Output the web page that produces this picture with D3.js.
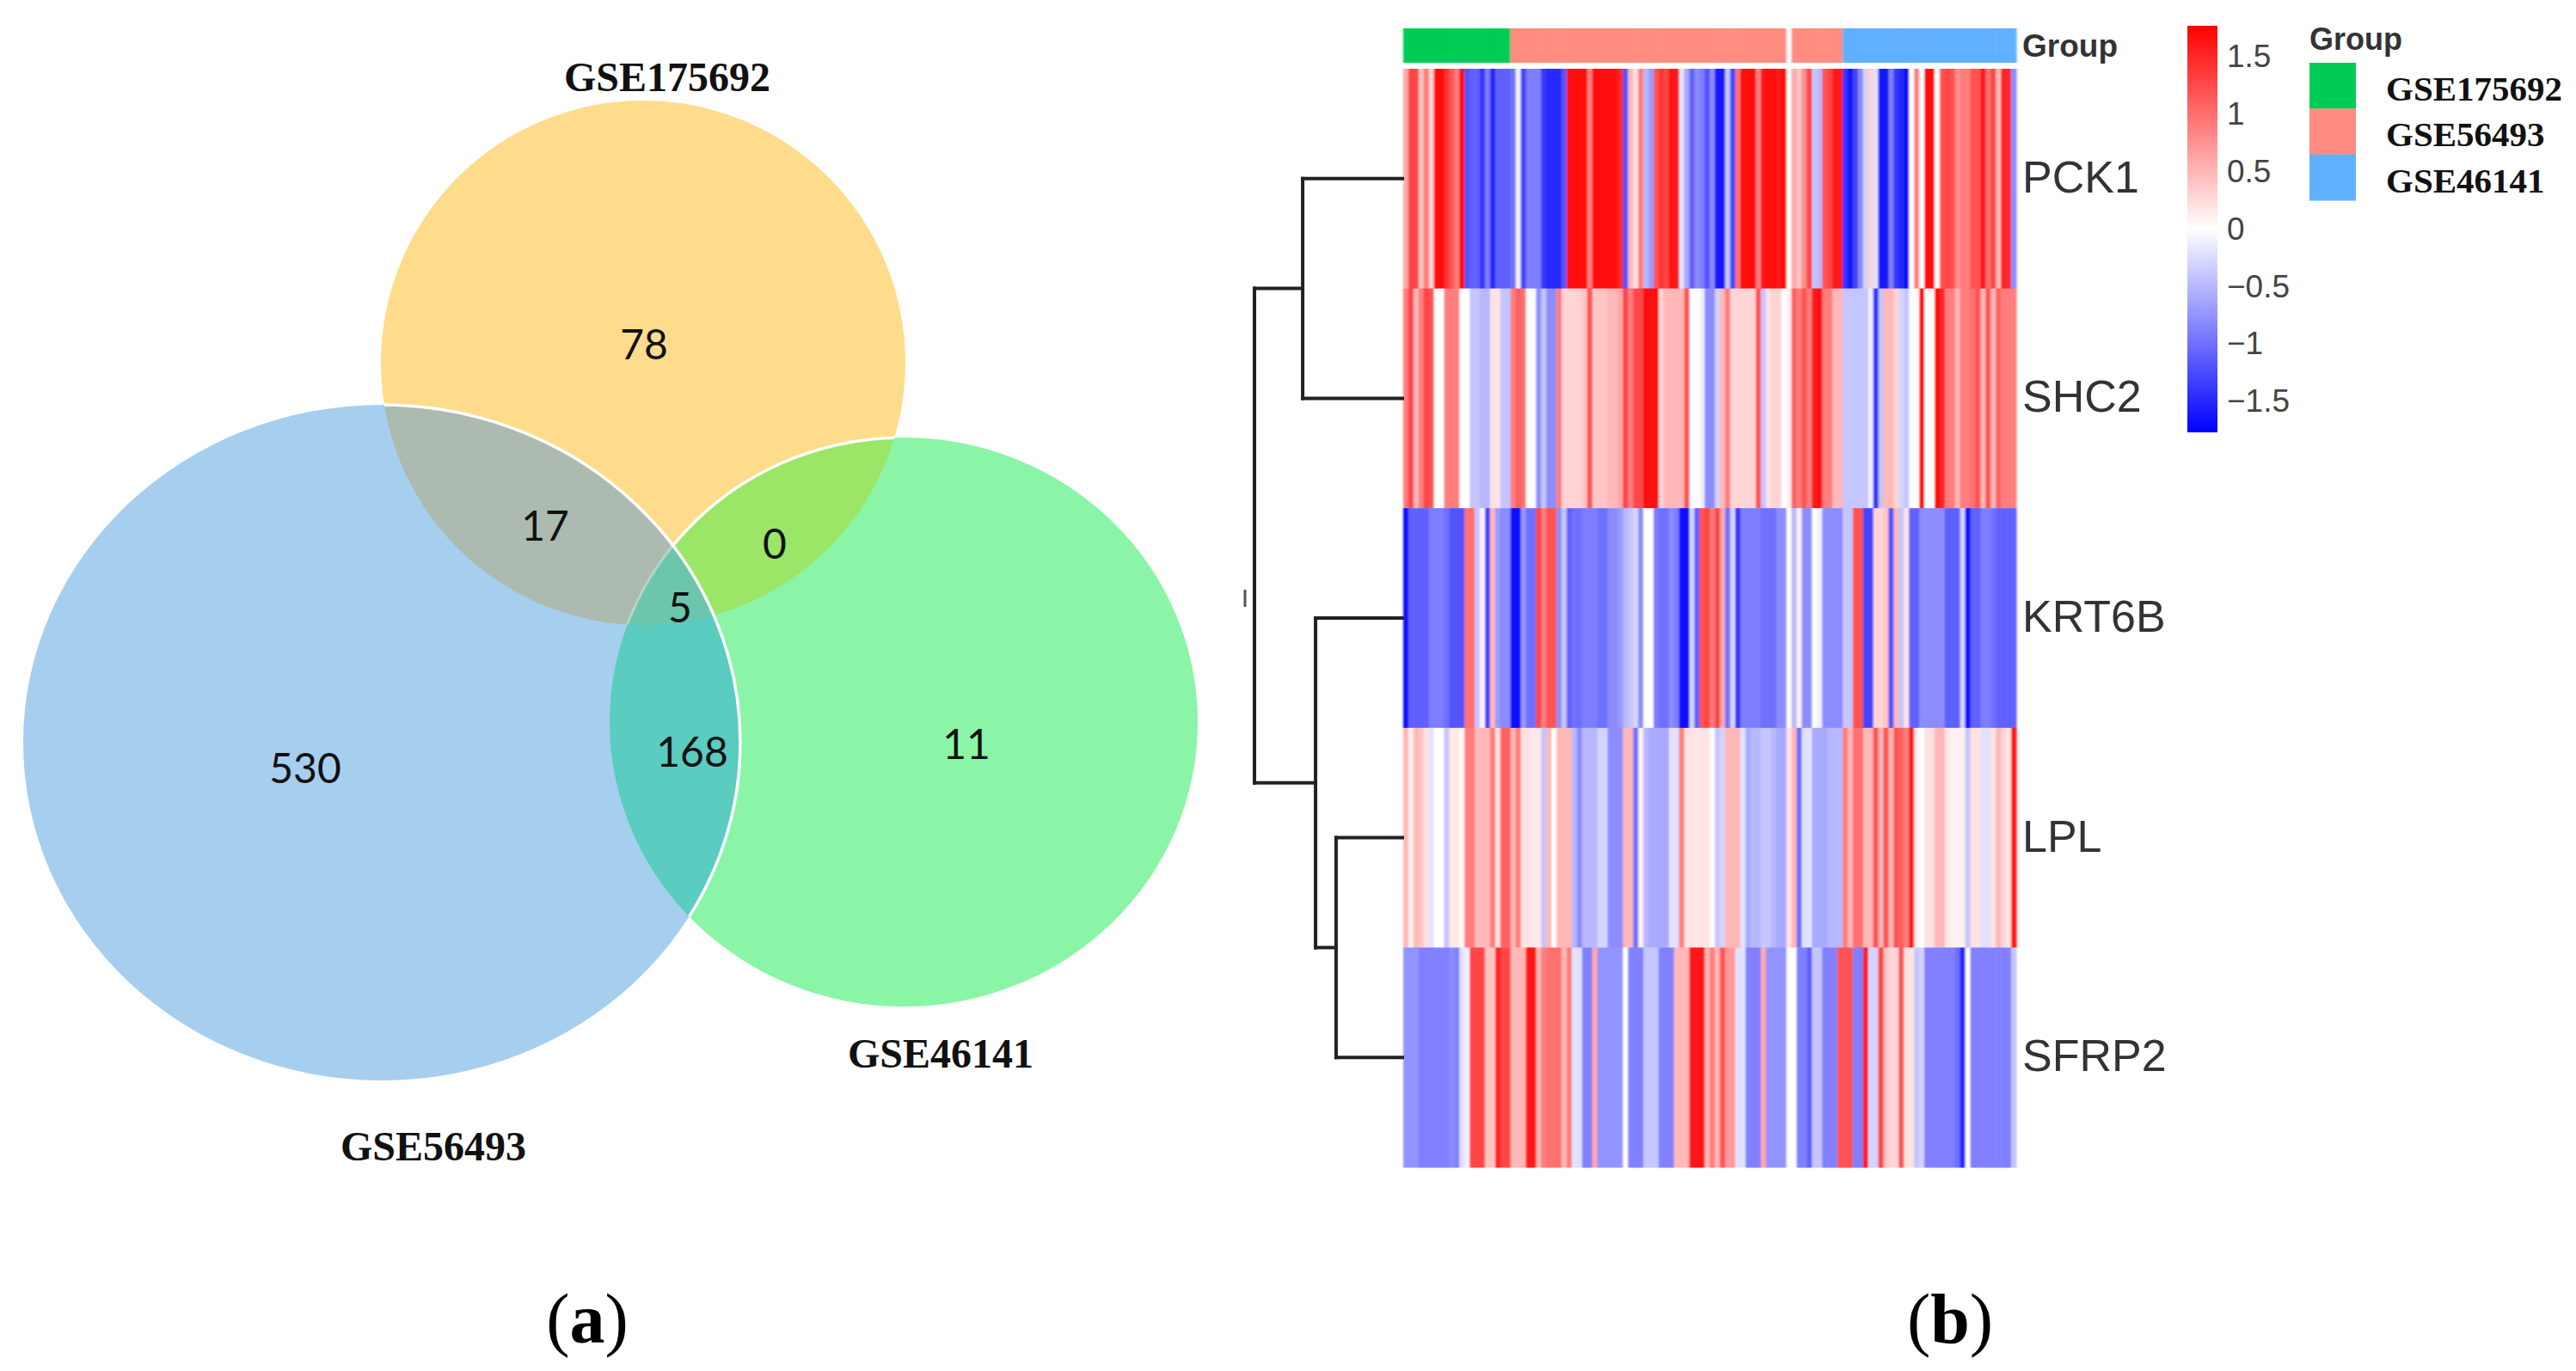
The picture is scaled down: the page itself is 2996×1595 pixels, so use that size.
<!DOCTYPE html>
<html>
<head>
<meta charset="utf-8">
<script src="https://cdn.jsdelivr.net/npm/d3@7"></script>
<style>
html,body{margin:0;padding:0;background:#fff;}
svg{display:block;}
</style>
</head>
<body>
<div id="chart"></div>
<script>
// ---------- data ----------
const vennSets = ["GSE175692", "GSE56493", "GSE46141"];
const vennCounts = [78, 17, 0, 5, 530, 168, 11];
const panelLabels = ["a", "b"];
const genes = ["PCK1", "SHC2", "KRT6B", "LPL", "SFRP2"];
const groupNames = ["GSE175692", "GSE56493", "GSE46141"];
const groupSizes = [21, 65, 34];
const colorTicks = [1.5, 1, 0.5, 0, -0.5, -1, -1.5];
const annotationTitle = "Group";

const pck1 = [0.6,1.3,1.3,0.4,0.9,0.3,1.7,1.7,1.4,1.2,0.9,1.7,-1.2,-1.1,-1.1,-1.4,-0.9,-1.5,-1.1,-1.1,
 -1.1,-1.0,-0.1,-1.3,-0.9,-0.9,-0.9,-1.4,-1.5,-1.5,-1.5,-1.2,1.7,1.7,1.7,1.7,0.9,1.7,1.7,1.7,
 1.7,1.7,1.5,-1.2,0.5,0.2,0.9,-0.5,-0.7,1.2,1.4,1.3,1.6,1.6,-0.2,-0.6,-1.1,-0.8,-0.9,-1.2,
 -0.8,-1.6,-1.6,-0.4,-1.3,1.0,1.7,1.7,1.7,0.9,1.6,1.7,1.7,1.6,1.7,0,0.6,0.4,0.8,1.3,
 -0.4,-0.5,1.2,1.3,1.6,1.6,-1.4,-1.6,-1.3,-0.8,-0.3,0.3,-0.2,-1.6,-1.6,-0.9,-1.4,-1.5,-1.7,0,
 0.9,0,1.7,1.7,0,1.2,1.3,1.2,0.8,0.9,0.9,1.2,1.2,1.6,1.0,1.3,0.5,1.5,1.5,-0.8];
const shc2 = [0.9,1.3,0.5,0.9,1.3,1.2,0,0,0.9,0.9,0.9,0,0,-0.4,-0.4,-0.5,-0.5,0.2,0.2,-0.4,
 -0.4,0.9,1.1,1.0,0,0,-0.8,-0.4,-0.8,-0.8,0.9,0.3,0.3,0.3,0.3,0.4,1.2,0.4,0.4,0.4,
 0.5,0.5,0.6,1.3,0.9,1.3,1.3,1.7,1.7,1.7,0.3,0.5,0.5,0.5,0.5,1.2,0,0,-0.1,-0.8,
 -0.8,-0.3,0.5,0.9,0.3,0.3,0.3,0.3,0.3,1.2,-0.4,0.2,0.3,0.3,0,0.1,1.1,0.9,1.2,0.9,
 1.6,1.7,0.9,0.9,0.5,0.5,-0.4,-0.4,-0.4,-0.4,-0.4,-0.1,-1.4,-0.4,0.5,0.5,0.3,-0.3,-0.4,0,
 0,1.7,0,0,1.7,1.5,0.9,0.9,0.5,0.9,0.9,1.0,1.2,0.5,1.2,0.5,1.1,0.9,0.9,0.9];
const krt6b = [-1.7,-1.1,-1.1,-1.1,-1.1,-0.9,-0.9,-0.9,-1.0,-1.2,-1.2,-1.2,1.0,1.0,-0.4,0.1,-1.3,0.5,-0.7,-0.8,
 -0.8,-1.7,-1.7,-0.7,-1.0,-1.0,1.3,0.9,1.2,1.2,-0.8,-0.4,-1.1,-1.0,-1.0,-0.9,-0.9,-0.9,-1.0,-1.0,
 -0.8,-0.8,-0.7,-0.5,-0.4,-0.3,-0.8,0,0,-0.9,-1.0,-1.0,-0.8,-0.9,-1.7,-1.7,-0.3,-1.1,1.2,1.3,
 0.9,1.3,0.6,-1.0,-0.3,-1.4,-0.9,-0.9,-0.9,-0.9,-1.0,-1.0,-1.0,-0.8,-0.8,0,-0.5,0.1,-0.8,-0.8,
 0,-0.1,-0.8,-0.8,-0.8,-0.8,-0.4,-0.4,1.2,1.2,-1.3,-1.3,0.3,0.3,0.4,-1.2,0.5,-0.4,0.2,-1.1,
 -1.1,-0.8,-0.8,-0.8,-0.8,-0.8,-1.1,-1.1,-1.1,-0.3,-1.7,-1.1,-1.1,-0.9,-0.9,-1.0,-1.1,-1.1,-1.1,-1.1];
const lpl = [0.5,0.1,0.5,0.4,0.2,-0.2,0,0,-0.4,0.15,0.15,0.05,0.9,0.9,0.5,0.5,0.5,0.9,0.2,1.1,
 1.1,0.5,0.9,0.2,0.2,0.15,0.15,-0.4,0.5,0,0.5,0.5,0.5,-0.5,-0.8,-0.5,-0.5,-0.5,-0.3,-0.3,
 -0.8,-0.8,-0.8,0.5,0.5,-1.0,0.1,-0.5,-0.6,-0.6,-0.6,-0.6,-0.2,-0.2,0.9,0.2,0.2,0.15,0.2,0.2,
 0,-0.4,-0.3,0.5,0.5,0.5,-0.2,-0.6,-0.5,-0.5,-0.4,-0.4,-0.5,-0.6,-0.6,0.2,0.5,-1.0,-0.2,-0.2,
 -0.6,-0.6,-0.6,-0.5,-0.5,-0.5,0.9,0.5,1.0,1.0,0.5,0.5,1.2,0.5,1.2,0.5,1.2,1.1,0.9,1.6,
 0.1,0,0.2,0.2,0.5,0.5,0.15,0.1,0.1,0.1,-0.4,0.2,0.2,-0.2,-0.2,0.2,0.5,0.3,0.2,1.6];
const sfrp2 = [-0.75,-0.75,-0.75,-0.88,-0.88,-0.88,-0.88,-0.88,-0.88,-0.8,-0.88,-0.2,-0.1,1.3,1.3,1.3,0.4,0.4,1.5,1.3,
 1.3,0.5,0.5,0.5,1.6,1.6,0.5,0.9,1.0,1.0,1.0,0.5,0.9,-0.2,-0.2,-0.88,-0.88,0.6,-0.75,-0.75,
 -0.75,-0.75,-0.75,0,-0.88,-0.88,-0.88,-0.4,-0.4,-0.4,-0.88,-0.88,-0.88,0.5,0.5,0.5,1.6,1.6,1.6,0.5,
 0.9,0.5,1.2,0.7,0.7,-0.2,-0.2,-0.88,-0.88,-0.88,0.6,-0.75,-0.75,-0.75,-0.75,0,0,-0.88,-0.88,-1.1,
 -0.4,-0.4,-0.88,-0.88,-0.88,1.2,1.2,1.2,-0.88,-0.88,1.6,-0.3,-0.3,1.3,0.4,0.3,0.3,1.2,0.2,0.2,
 -0.4,-0.3,-0.88,-0.88,-0.88,-0.88,-0.88,-0.88,-1.0,-1.5,0,-0.88,-0.88,-0.88,-0.88,-0.88,-0.88,-0.88,-0.88,-0.4];
const heatRows = [pck1, shc2, krt6b, lpl, sfrp2];
// merge heights of the row dendrogram (fraction of the tree height)
const mergeHeights = { top: 0.674, lower: 0.587, pair: 0.448, root: 1 };

// ---------- layout ----------
const W = 2996, H = 1595;
const svg = d3.select("#chart").append("svg").attr("width", W).attr("height", H).attr("viewBox", `0 0 ${W} ${H}`);
svg.append("rect").attr("width", W).attr("height", H).attr("fill", "#fff");
const defs = svg.append("defs");
const SERIF = "'Liberation Serif', serif", SANS = "'Liberation Sans', Arial, sans-serif", COUNT = "Lato, 'Noto Sans', sans-serif";

// ---------- venn ----------
const ellipses = {
  y: { cx: 748, cy: 422, rx: 305, ry: 305 },
  b: { cx: 444, cy: 864, rx: 417, ry: 393 },
  g: { cx: 1051, cy: 840, rx: 342, ry: 331 }
};
const addEllipse = (sel, e) => sel.append("ellipse").attr("cx", e.cx).attr("cy", e.cy).attr("rx", e.rx).attr("ry", e.ry);
Object.entries(ellipses).forEach(([k, e]) => addEllipse(defs.append("clipPath").attr("id", "clip-" + k), e));
const yg = defs.append("clipPath").attr("id", "clip-yg");
addEllipse(yg, ellipses.y); addEllipse(yg, ellipses.g);

const venn = svg.append("g");
addEllipse(venn, ellipses.y).attr("fill", "#FFDC8C");
addEllipse(venn, ellipses.b).attr("fill", "#A6CEEE");
addEllipse(venn, ellipses.g).attr("fill", "#8AF5A6");
// overlap of two sets: draw a inside clip b
function overlap(a, b, fill) {
  return addEllipse(venn.append("g").attr("clip-path", `url(#clip-${b})`), ellipses[a]).attr("fill", fill);
}
overlap("y", "g", "#9BE666");
addEllipse(venn.append("g").attr("clip-path", "url(#clip-y)"), ellipses.g)
  .attr("fill", "none").attr("stroke", "#fff").attr("stroke-width", 3.5);
overlap("y", "b", "#ACBAB0");
overlap("b", "g", "#5ACCC0");
addEllipse(venn.append("g").attr("clip-path", "url(#clip-y)").append("g").attr("clip-path", "url(#clip-g)"), ellipses.b)
  .attr("fill", "#6CC6AC");
addEllipse(venn.append("g").attr("clip-path", "url(#clip-b)").append("g").attr("clip-path", "url(#clip-y)"), ellipses.g)
  .attr("fill", "none").attr("stroke", "#fff").attr("stroke-opacity", 0.35).attr("stroke-width", 3);
addEllipse(venn.append("g").attr("clip-path", "url(#clip-yg)"), ellipses.b)
  .attr("fill", "none").attr("stroke", "#fff").attr("stroke-width", 3.5);

const countPos = [[749, 399], [634, 610], [901, 631], [791, 705], [355, 892], [805, 873], [1124, 864]];
venn.selectAll("text.count").data(vennCounts).join("text").attr("class", "count")
  .attr("x", (d, i) => countPos[i][0]).attr("y", (d, i) => countPos[i][1])
  .attr("text-anchor", "middle").attr("dominant-baseline", "central")
  .attr("font-family", COUNT).attr("font-size", 48).attr("fill", "#111").text(d => d);

const setPos = [[776, 89], [504, 1333], [1094, 1225]];
venn.selectAll("text.set").data(vennSets).join("text").attr("class", "set")
  .attr("x", (d, i) => setPos[i][0]).attr("y", (d, i) => setPos[i][1])
  .attr("text-anchor", "middle").attr("dominant-baseline", "central")
  .attr("font-family", SERIF).attr("font-weight", "bold").attr("font-size", 48).attr("fill", "#111").text(d => d);

// panel letters
const panelX = [683, 2268];
const panel = svg.selectAll("text.panel").data(panelLabels).join("text").attr("class", "panel")
  .attr("x", (d, i) => panelX[i]).attr("y", 1562).attr("text-anchor", "middle")
  .attr("font-family", SERIF).attr("font-size", 82).attr("fill", "#000");
panel.append("tspan").text("(");
panel.append("tspan").attr("font-weight", "bold").text(d => d);
panel.append("tspan").text(")");

// ---------- heatmap ----------
const nCols = heatRows[0].length;
const x = d3.scaleBand().domain(d3.range(nCols)).range([1632, 2345]).paddingInner(0);
const y = d3.scaleBand().domain(genes).range([80, 1358]).paddingInner(0);
const color = d3.scaleLinear().domain([-1.77, 0, 1.77]).range(["#0000ff", "#ffffff", "#ff0000"]).clamp(true);
const groupColor = d3.scaleOrdinal().domain(groupNames).range(["#00CC55", "#FF8C80", "#5FB0FF"]);
const blur = defs.append("filter").attr("id", "soft").attr("x", "-1%").attr("y", "-1%").attr("width", "102%").attr("height", "102%");
blur.append("feGaussianBlur").attr("stdDeviation", "0.9 0.5");

// annotation strip, one cell per column
const columnGroups = groupNames.flatMap((g, i) => d3.range(groupSizes[i]).map(() => g));
const heat = svg.append("g").attr("filter", "url(#soft)");
heat.append("g").selectAll("rect").data(columnGroups).join("rect")
  .attr("x", (d, i) => x(i)).attr("y", 33).attr("width", x.bandwidth() + 0.5).attr("height", 40)
  .attr("fill", (d, i) => i === 75 ? "#fff" : groupColor(d));

heat.selectAll("g.row").data(heatRows).join("g").attr("class", "row")
  .attr("transform", (d, i) => `translate(0,${y(genes[i])})`)
  .selectAll("rect").data(d => d).join("rect")
  .attr("x", (d, i) => x(i)).attr("width", x.bandwidth() + 0.5).attr("height", y.bandwidth() + 0.5)
  .attr("fill", d => color(d));

// gene labels
svg.selectAll("text.gene").data(genes).join("text").attr("class", "gene")
  .attr("x", 2352).attr("y", d => y(d) + y.bandwidth() / 2 + 16)
  .attr("font-family", SANS).attr("font-size", 52).attr("fill", "#333").text(d => d);

svg.append("text").attr("x", 2352).attr("y", 66).attr("font-family", SANS).attr("font-weight", "bold")
  .attr("font-size", 37).attr("fill", "#333").text(annotationTitle);

// ---------- dendrogram ----------
const treeX = d3.scaleLinear().domain([0, 1]).range([1631, 1459]);
const rowMid = g => y(g) + y.bandwidth() / 2;
const tree = { h: mergeHeights.root, kids: [
  { h: mergeHeights.top, kids: [{ leaf: "PCK1" }, { leaf: "SHC2" }] },
  { h: mergeHeights.lower, kids: [{ leaf: "KRT6B" }, { h: mergeHeights.pair, kids: [{ leaf: "LPL" }, { leaf: "SFRP2" }] }] }
] };
const segments = [];
(function walk(n) {
  if (n.leaf) { n.pos = rowMid(n.leaf); n.hh = 0; return n; }
  n.kids.forEach(walk);
  n.pos = d3.mean(n.kids, k => k.pos);
  n.hh = n.h;
  n.kids.forEach(k => segments.push([treeX(k.hh), k.pos, treeX(n.hh), k.pos]));
  segments.push([treeX(n.hh), n.kids[0].pos, treeX(n.hh), n.kids[1].pos]);
  return n;
})(tree);
svg.append("g").selectAll("line").data(segments).join("line")
  .attr("x1", d => d[0]).attr("y1", d => d[1]).attr("x2", d => d[2]).attr("y2", d => d[3])
  .attr("stroke", "#222").attr("stroke-width", 4).attr("stroke-linecap", "square");
svg.append("line").attr("x1", 1448).attr("x2", 1448).attr("y1", 686).attr("y2", 706)
  .attr("stroke", "#555").attr("stroke-width", 3);

// ---------- colour bar ----------
const barScale = d3.scaleLinear().domain([1.77, -1.77]).range([30, 503]);
const grad = defs.append("linearGradient").attr("id", "bar").attr("x1", 0).attr("x2", 0).attr("y1", 0).attr("y2", 1);
[1.77, 0, -1.77].forEach((v, i) => grad.append("stop").attr("offset", i / 2).attr("stop-color", color(v)));
svg.append("rect").attr("x", 2544).attr("y", barScale(1.77)).attr("width", 35)
  .attr("height", barScale(-1.77) - barScale(1.77)).attr("fill", "url(#bar)");
const barAxis = svg.append("g").attr("transform", "translate(2579,0)")
  .call(d3.axisRight(barScale).tickValues(colorTicks).tickSize(0).tickPadding(11)
    .tickFormat(d => String(d).replace("-", "\u2212")));
barAxis.select(".domain").remove();
barAxis.selectAll("text").attr("font-family", SANS).attr("font-size", 37).attr("fill", "#444");

// ---------- group legend ----------
svg.append("text").attr("x", 2686).attr("y", 58).attr("font-family", SANS).attr("font-weight", "bold")
  .attr("font-size", 36).attr("fill", "#333").text(annotationTitle);
const legY = d3.scaleBand().domain(groupNames).range([73, 233]);
svg.append("g").selectAll("rect").data(groupNames).join("rect")
  .attr("x", 2686).attr("y", d => legY(d)).attr("width", 54).attr("height", legY.bandwidth() + 0.5)
  .attr("fill", d => groupColor(d));
svg.append("g").selectAll("text").data(groupNames).join("text")
  .attr("x", 2775).attr("y", d => legY(d) + 44)
  .attr("font-family", SERIF).attr("font-weight", "bold").attr("font-size", 41).attr("fill", "#111").text(d => d);
</script>
</body>
</html>
